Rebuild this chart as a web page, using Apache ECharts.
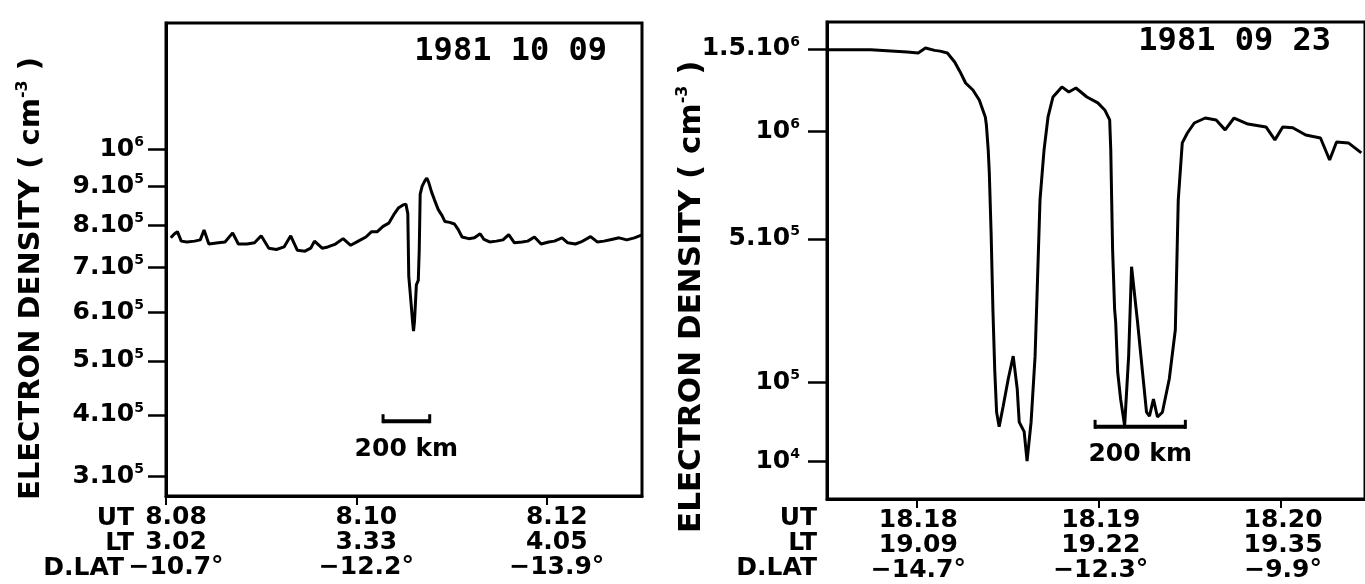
<!DOCTYPE html>
<html><head><meta charset="utf-8">
<script src="https://cdn.jsdelivr.net/npm/echarts@6/dist/echarts.min.js"></script>
<style>html,body{margin:0;padding:0;background:#fff}#c{width:1365px;height:584px}</style>
</head><body><div id="c"></div>
<script>
// ---------------- DATA ----------------
const LEFT_DATE = '1981 10 09';
const RIGHT_DATE = '1981 09 23';
const Y_TITLE = 'ELECTRON DENSITY ( cm';

// Left panel: UT (minutes of day) and electron density (cm^-3)
const LEFT_UT = [488.05,488.09,488.12,488.16,488.22,488.30,488.36,488.40,488.45,488.55,488.62,488.70,488.76,488.85,488.93,489.00,489.08,489.16,489.24,489.31,489.38,489.46,489.52,489.56,489.64,489.70,489.78,489.86,489.94,490.02,490.10,490.16,490.22,490.28,490.34,490.40,490.44,490.49,490.52,490.54,490.55,490.57,490.59,490.60,490.61,490.63,490.65,490.66,490.67,490.69,490.72,490.74,490.76,490.79,490.82,490.86,490.90,490.93,490.98,491.03,491.07,491.11,491.18,491.24,491.30,491.34,491.40,491.47,491.54,491.60,491.66,491.74,491.80,491.87,491.94,492.02,492.08,492.16,492.22,492.30,492.36,492.46,492.53,492.60,492.68,492.76,492.84,492.92,493.00];
const LEFT_NE = [7.70e5,7.80e5,7.85e5,7.62e5,7.60e5,7.62e5,7.65e5,7.89e5,7.55e5,7.58e5,7.60e5,7.82e5,7.55e5,7.55e5,7.58e5,7.75e5,7.45e5,7.42e5,7.48e5,7.75e5,7.40e5,7.38e5,7.45e5,7.62e5,7.45e5,7.48e5,7.55e5,7.68e5,7.52e5,7.62e5,7.72e5,7.85e5,7.85e5,7.98e5,8.06e5,8.30e5,8.44e5,8.52e5,8.54e5,8.30e5,6.80e5,6.30e5,5.80e5,5.60e5,5.80e5,6.60e5,6.70e5,7.40e5,8.80e5,9.00e5,9.15e5,9.22e5,9.10e5,8.85e5,8.65e5,8.40e5,8.25e5,8.10e5,8.08e5,8.04e5,7.90e5,7.72e5,7.68e5,7.70e5,7.80e5,7.66e5,7.60e5,7.62e5,7.65e5,7.78e5,7.58e5,7.60e5,7.62e5,7.72e5,7.55e5,7.60e5,7.62e5,7.70e5,7.58e5,7.55e5,7.60e5,7.73e5,7.60e5,7.62e5,7.66e5,7.70e5,7.65e5,7.70e5,7.77e5];

// Right panel: UT (minutes of day) and electron density (cm^-3)
const RIGHT_UT = [1097.51,1097.75,1097.95,1098.01,1098.05,1098.10,1098.13,1098.17,1098.21,1098.24,1098.27,1098.31,1098.345,1098.378,1098.384,1098.394,1098.40,1098.41,1098.42,1098.43,1098.44,1098.454,1098.476,1098.504,1098.531,1098.553,1098.564,1098.591,1098.607,1098.629,1098.651,1098.662,1098.678,1098.70,1098.722,1098.749,1098.798,1098.836,1098.875,1098.935,1098.995,1099.033,1099.060,1099.066,1099.071,1099.076,1099.087,1099.093,1099.104,1099.120,1099.142,1099.164,1099.180,1099.213,1099.240,1099.262,1099.278,1099.300,1099.322,1099.349,1099.387,1099.420,1099.436,1099.458,1099.486,1099.524,1099.584,1099.644,1099.693,1099.742,1099.818,1099.917,1099.966,1100.009,1100.064,1100.135,1100.216,1100.266,1100.304,1100.369,1100.44];
const RIGHT_NE = [1.495e6,1.495e6,1.480e6,1.473e6,1.506e6,1.490e6,1.485e6,1.473e6,1.414e6,1.350e6,1.281e6,1.238e6,1.178e6,1.080e6,1.035e6,9.01e5,7.86e5,5.20e5,2.60e5,1.20e5,5.5e4,3.8e4,6.3e4,1.06e5,1.50e5,8.9e4,4.3e4,3.3e4,1.03e4,4.3e4,1.50e5,3.13e5,6.61e5,9.0e5,1.08e6,1.196e6,1.257e6,1.226e6,1.250e6,1.196e6,1.161e6,1.120e6,1.063e6,9.0e5,6.6e5,4.6e5,2.66e5,2.30e5,1.18e5,7.3e4,3.9e4,1.50e5,3.98e5,2.30e5,1.18e5,5.5e4,5.0e4,7.3e4,4.9e4,5.5e4,1.06e5,2.11e5,6.6e5,9.38e5,9.91e5,1.046e6,1.074e6,1.063e6,1.008e6,1.074e6,1.040e6,1.024e6,9.54e5,1.024e6,1.020e6,9.80e5,9.64e5,8.50e5,9.43e5,9.38e5,8.86e5];

// Axis ticks and labels
const LEFT_Y_TICKS = [3e5,4e5,5e5,6e5,7e5,8e5,9e5,1e6];
const LEFT_Y_LABELS = [['3.10','5'],['4.10','5'],['5.10','5'],['6.10','5'],['7.10','5'],['8.10','5'],['9.10','5'],['10','6']];
const RIGHT_Y_TICKS = [1e4,1e5,5e5,1e6,1.5e6];
const RIGHT_Y_LABELS = [['10','4'],['10','5'],['5.10','5'],['10','6'],['1.5.10','6']];
const RIGHT_Y_MINOR = [5e4,2e5,3e5,4e5,6e5,7e5,8e5,9e5];

const LEFT_X_TICKS = [488,490,492];
const LEFT_UT_LABELS = ['8.08','8.10','8.12'];
const LEFT_LT_LABELS = ['3.02','3.33','4.05'];
const LEFT_DLAT_LABELS = ['\u221210.7\u00b0','\u221212.2\u00b0','\u221213.9\u00b0'];
const RIGHT_X_TICKS = [1098,1099,1100];
const RIGHT_UT_LABELS = ['18.18','18.19','18.20'];
const RIGHT_LT_LABELS = ['19.09','19.22','19.35'];
const RIGHT_DLAT_LABELS = ['\u221214.7\u00b0','\u221212.3\u00b0','\u22129.9\u00b0'];
const ROW_NAMES = ['UT','LT','D.LAT'];

// 200 km scale bars: [UT start, UT end, density level]
const LEFT_SCALE = [490.28, 490.77, 3.89e5];
const RIGHT_SCALE = [1098.98, 1099.475, 3.79e4];
const SCALE_TEXT = '200 km';

// ---------------- CHART ----------------
// The density axes of the original are square-root scales: plot sqrt(Ne) on linear axes.
const sq = v => Math.sqrt(v);
const FONT = '"DejaVu Sans", sans-serif';
const BOLD = 'bold';

function nearestIdx(arr, v, f){ let b = 0; arr.forEach((t,i)=>{ if (Math.abs(f(t)-v) < Math.abs(f(arr[b])-v)) b = i; }); return b; }
function yFmt(ticks, labels){ return v => { const i = nearestIdx(ticks, v, sq); return '{b|' + labels[i][0] + '}{s|' + labels[i][1] + '}'; }; }
function xFmt(ticks, a, b, c){ return v => { const i = nearestIdx(ticks, v, t=>t); return a[i] + '\n' + b[i] + '\n' + c[i]; }; }
const yRich = {
  b: {fontFamily: FONT, fontWeight: BOLD, fontSize: 25, color: '#000', lineHeight: 28},
  s: {fontFamily: FONT, fontWeight: BOLD, fontSize: 14, color: '#000', verticalAlign: 'top', lineHeight: 14}
};
const axLine = {show: true, onZero: false, lineStyle: {color: '#000', width: 3}};

function xAxis(gi, min, max, ticks, a, b, c, padLeft){
  return {gridIndex: gi, type: 'value', min, max, axisLine: axLine,
    axisTick: {show: true, length: 9, customValues: ticks, lineStyle: {color: '#000', width: 2}},
    axisLabel: {show: true, customValues: ticks, formatter: xFmt(ticks, a, b, c), color: '#000',
      fontFamily: FONT, fontWeight: BOLD, fontSize: 25, lineHeight: 25, margin: 9, padding: [0,0,0,padLeft], hideOverlap: false},
    splitLine: {show: false}};
}
function yAxis(gi, min, max, ticks, labels, margin, tickLen){
  return {gridIndex: gi, type: 'value', min, max, axisLine: axLine,
    axisTick: {show: true, length: tickLen, customValues: ticks.map(sq), lineStyle: {color: '#000', width: 2.5}},
    axisLabel: {show: true, customValues: ticks.map(sq), formatter: yFmt(ticks, labels), rich: yRich, margin, hideOverlap: false},
    splitLine: {show: false}};
}
function scaleBar(xi, bar){
  return {type: 'custom', xAxisIndex: xi, yAxisIndex: xi, silent: true, clip: false,
    encode: {x: [0,1], y: 2},
    data: [[bar[0], bar[1], sq(bar[2])]],
    renderItem(params, api){
      const p0 = api.coord([api.value(0), api.value(2)]);
      const p1 = api.coord([api.value(1), api.value(2)]);
      return {type: 'group', children: [
        {type: 'line', shape: {x1: p0[0], y1: p0[1], x2: p1[0], y2: p1[1]}, style: {stroke: '#000', lineWidth: 4}},
        {type: 'line', shape: {x1: p0[0], y1: p0[1]+2, x2: p0[0], y2: p0[1]-7}, style: {stroke: '#000', lineWidth: 3}},
        {type: 'line', shape: {x1: p1[0], y1: p1[1]+2, x2: p1[0], y2: p1[1]-7}, style: {stroke: '#000', lineWidth: 3}},
        {type: 'text', x: (p0[0]+p1[0])/2, y: p0[1]+28, style: {text: SCALE_TEXT, fill: '#000', fontFamily: FONT, fontWeight: BOLD, fontSize: 25, align: 'center', verticalAlign: 'middle'}}
      ]};
    }};
}
function txt(x, y, text, align, size, family){
  return {type: 'text', x, y, silent: true, style: {text, fill: '#000', fontFamily: family || FONT, fontWeight: BOLD, fontSize: size || 25, align, verticalAlign: 'middle'}};
}
function yTitle(x, y, size){
  return {type: 'text', x, y, rotation: Math.PI/2, silent: true,
    style: {text: '{a|' + Y_TITLE + '}{s|-3}{a| )}', align: 'left', verticalAlign: 'middle',
      rich: {a: {fontFamily: FONT, fontWeight: BOLD, fontSize: size, fill: '#000', lineHeight: size + 4},
             s: {fontFamily: FONT, fontWeight: BOLD, fontSize: 16, fill: '#000', verticalAlign: 'top', lineHeight: 16}}}};
}

const chart = echarts.init(document.getElementById('c'), null, {renderer: 'canvas'});
chart.setOption({
  animation: false,
  backgroundColor: '#fff',
  grid: [
    {left: 166, top: 23, width: 476, height: 473, show: true, borderColor: '#000', borderWidth: 3},
    {left: 827, top: 22, width: 541, height: 477, show: true, borderColor: '#000', borderWidth: 3}
  ],
  xAxis: [
    xAxis(0, 488, 493, LEFT_X_TICKS, LEFT_UT_LABELS, LEFT_LT_LABELS, LEFT_DLAT_LABELS, 20),
    xAxis(1, 1097.51, 1100.46, RIGHT_X_TICKS, RIGHT_UT_LABELS, RIGHT_LT_LABELS, RIGHT_DLAT_LABELS, 4)
  ],
  yAxis: [
    yAxis(0, 520.2, 1174.8, LEFT_Y_TICKS, LEFT_Y_LABELS, 22, 18),
    yAxis(1, -2, 1298, RIGHT_Y_TICKS, RIGHT_Y_LABELS, 27, 19),
    {gridIndex: 1, type: 'value', min: -2, max: 1298, axisLine: {show: false},
     axisTick: {show: true, length: 11, customValues: RIGHT_Y_MINOR.map(sq), lineStyle: {color: '#000', width: 2}},
     axisLabel: {show: false}, splitLine: {show: false}}
  ],
  series: [
    {type: 'line', xAxisIndex: 0, yAxisIndex: 0, data: LEFT_UT.map((t,i)=>[t, sq(LEFT_NE[i])]),
     showSymbol: false, lineStyle: {color: '#000', width: 3}},
    {type: 'line', xAxisIndex: 1, yAxisIndex: 1, data: RIGHT_UT.map((t,i)=>[t, sq(RIGHT_NE[i])]),
     showSymbol: false, lineStyle: {color: '#000', width: 3}},
    scaleBar(0, LEFT_SCALE),
    scaleBar(1, RIGHT_SCALE)
  ],
  graphic: [
    txt(607, 52, LEFT_DATE, 'right', 32, '"DejaVu Sans Mono", monospace'),
    txt(1331, 42, RIGHT_DATE, 'right', 32, '"DejaVu Sans Mono", monospace'),
    yTitle(31, 500, 29),
    yTitle(692, 533, 31),
    txt(134, 518, ROW_NAMES[0], 'right'),
    txt(134, 543, ROW_NAMES[1], 'right'),
    txt(124, 568, ROW_NAMES[2], 'right'),
    txt(817, 518, ROW_NAMES[0], 'right'),
    txt(817, 543, ROW_NAMES[1], 'right'),
    txt(817, 568, ROW_NAMES[2], 'right')
  ]
});
</script></body></html>
